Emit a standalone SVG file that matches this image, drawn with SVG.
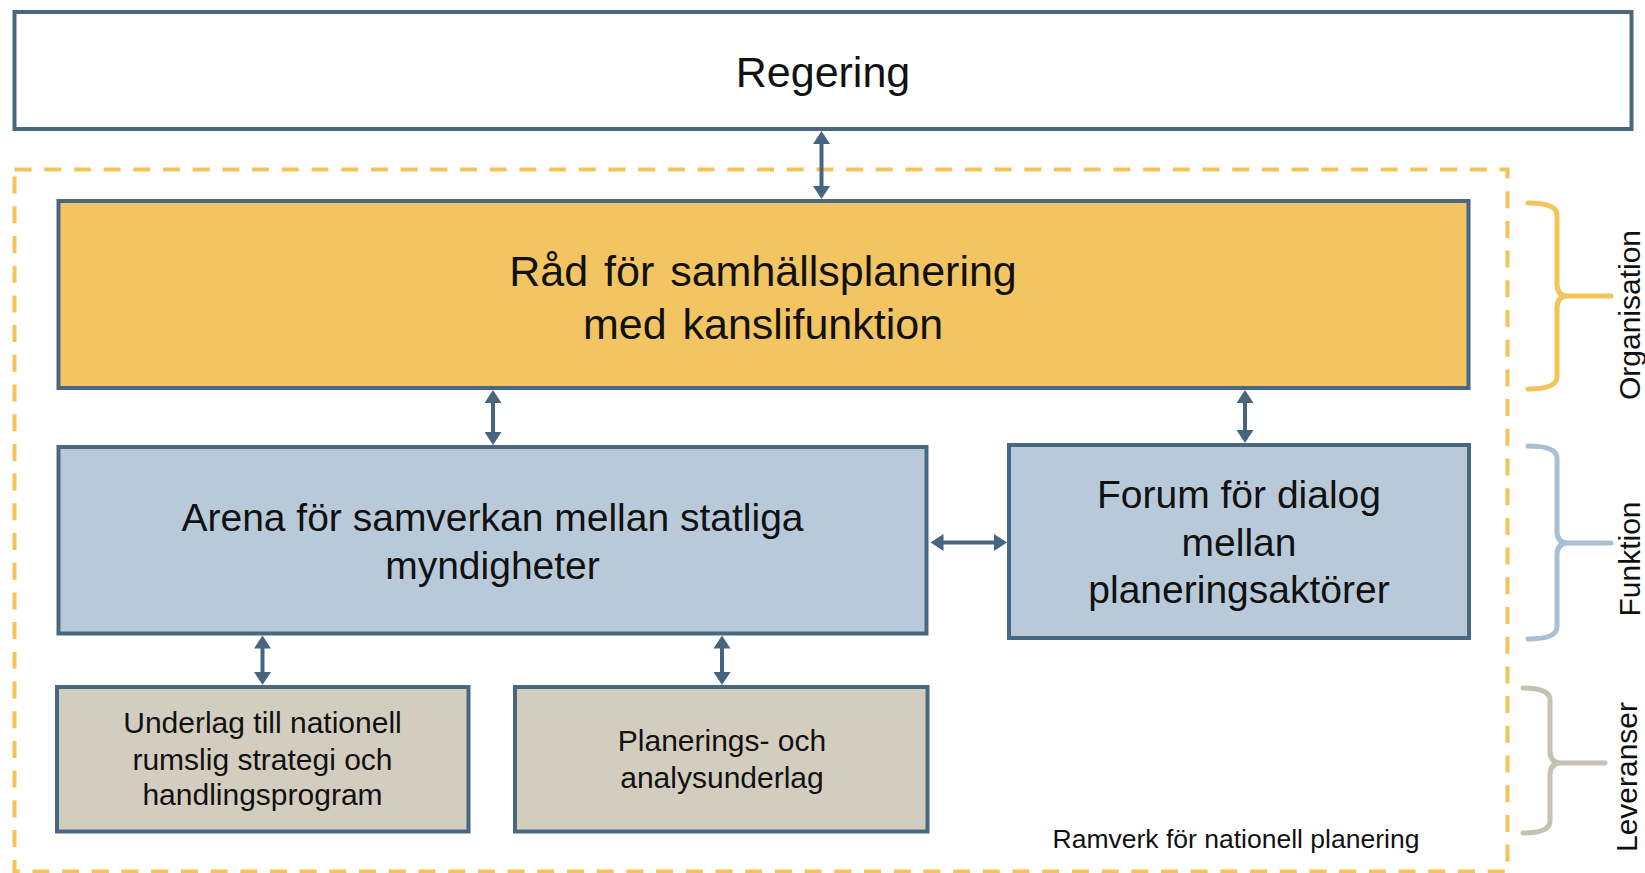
<svg xmlns="http://www.w3.org/2000/svg" width="1645" height="873" viewBox="0 0 1645 873">
<style>
.box{stroke:#4a6781;stroke-width:4}
.t{font-family:"Liberation Sans",Arial,sans-serif;fill:#111;text-anchor:middle}
.conn{stroke:#46657e;stroke-width:4;fill:none;marker-start:url(#ah);marker-end:url(#ah)}
.brace{fill:none;stroke-width:5;stroke-linecap:round;stroke-linejoin:round}
</style>
<defs>
<marker id="ah" markerUnits="userSpaceOnUse" viewBox="0 0 13 17" markerWidth="13" markerHeight="17" refX="7" refY="8.5" orient="auto-start-reverse">
<path d="M0,0 L13,8.5 L0,17 Z" fill="#46657e"/>
</marker>
</defs>
<rect width="1645" height="873" fill="#fff"/>

<g id="frame">
<rect x="14.5" y="169.5" width="1493" height="702" fill="none" stroke="#f5c35a" stroke-width="4" stroke-dasharray="17 12.7"/>
<text class="t" x="1236" y="848" font-size="26.5" fill="#222">Ramverk för nationell planering</text>
</g>

<g id="regering">
<rect class="box" x="14.5" y="12" width="1617" height="117" fill="#fff"/>
<text class="t" x="823" y="87" font-size="43">Regering</text>
</g>

<g id="rad">
<rect class="box" x="58.5" y="201" width="1410" height="187" fill="#f3c462"/>
<text class="t" x="763" y="286" font-size="43" word-spacing="4">Råd för samhällsplanering</text>
<text class="t" x="763" y="339" font-size="43" word-spacing="4">med kanslifunktion</text>
</g>

<g id="arena">
<rect class="box" x="58.5" y="447" width="868" height="186.5" fill="#b8cad9"/>
<text class="t" x="492.5" y="531" font-size="39">Arena för samverkan mellan statliga</text>
<text class="t" x="492.5" y="579" font-size="39">myndigheter</text>
</g>

<g id="forum">
<rect class="box" x="1009" y="445" width="460" height="193" fill="#b8cad9"/>
<text class="t" x="1239" y="508" font-size="39">Forum för dialog</text>
<text class="t" x="1239" y="556" font-size="39">mellan</text>
<text class="t" x="1239" y="603" font-size="39">planeringsaktörer</text>
</g>

<g id="underlag">
<rect class="box" x="57" y="687" width="411.5" height="144.5" fill="#d3cdc0"/>
<text class="t" x="262.5" y="733" font-size="30">Underlag till nationell</text>
<text class="t" x="262.5" y="770" font-size="30">rumslig strategi och</text>
<text class="t" x="262.5" y="805" font-size="30">handlingsprogram</text>
</g>

<g id="planerings">
<rect class="box" x="515" y="687" width="412.5" height="144.5" fill="#d3cdc0"/>
<text class="t" x="722" y="751" font-size="30">Planerings- och</text>
<text class="t" x="722" y="788" font-size="30">analysunderlag</text>
</g>

<g id="connectors">
<line class="conn" x1="821.5" y1="137" x2="821.5" y2="193"/>
<line class="conn" x1="493" y1="396" x2="493" y2="439"/>
<line class="conn" x1="1245" y1="396" x2="1245" y2="437"/>
<line class="conn" x1="936.5" y1="542.5" x2="1001" y2="542.5"/>
<line class="conn" x1="262.5" y1="641.5" x2="262.5" y2="679"/>
<line class="conn" x1="722" y1="641.5" x2="722" y2="679"/>
</g>

<g id="organisation">
<path class="brace" stroke="#f3c35c" d="M1528,203 Q1557,203 1557,215 L1557,284 Q1557,296 1568,296 L1611,296 M1568,296 Q1557,296 1557,308 L1557,377 Q1557,389 1528,389"/>
<text class="t" font-size="30" transform="translate(1640,315) rotate(-90)">Organisation</text>
</g>

<g id="funktion">
<path class="brace" stroke="#a9bfd4" d="M1528,446 Q1557,446 1557,458 L1557,531 Q1557,543 1568,543 L1611,543 M1568,543 Q1557,543 1557,555 L1557,627 Q1557,639 1528,639"/>
<text class="t" font-size="30" transform="translate(1640,559) rotate(-90)">Funktion</text>
</g>

<g id="leveranser">
<path class="brace" stroke="#c8c0b2" d="M1523,688 Q1550,688 1550,700 L1550,751 Q1550,763 1561,763 L1605,763 M1561,763 Q1550,763 1550,775 L1550,821 Q1550,833 1523,833"/>
<text class="t" font-size="30" transform="translate(1637,777) rotate(-90)">Leveranser</text>
</g>
</svg>
